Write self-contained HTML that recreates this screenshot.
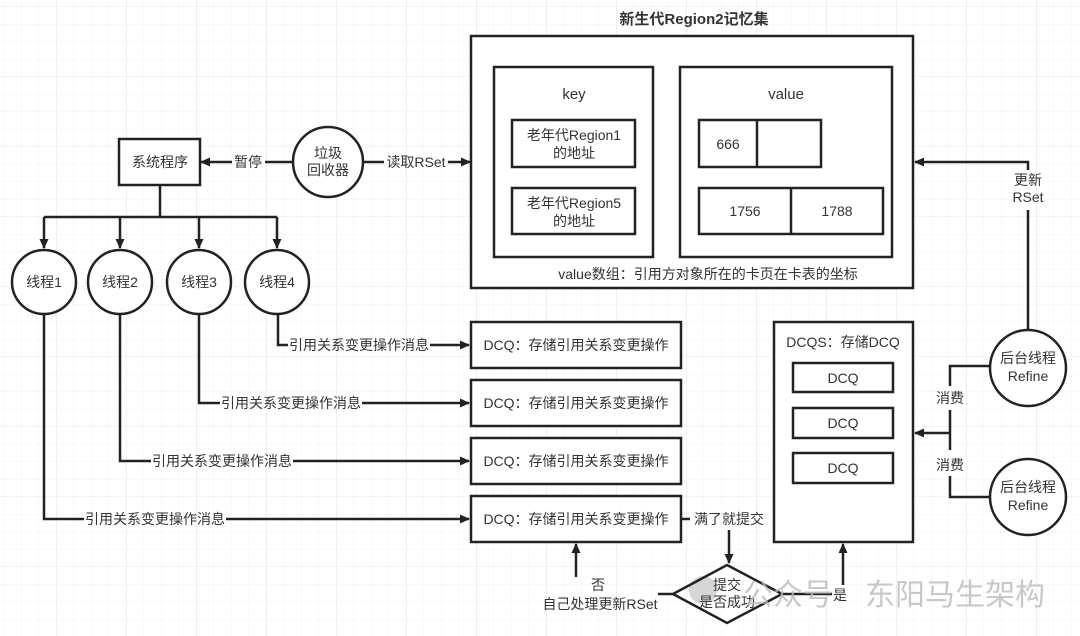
<!DOCTYPE html>
<html><head><meta charset="utf-8"><style>
html,body{margin:0;padding:0;background:#fff;}
svg{display:block;}
text{font-family:"Liberation Sans","Noto Sans CJK SC",sans-serif;fill:#333;}
</style></head><body>
<svg width="1080" height="636" viewBox="0 0 1080 636" xmlns="http://www.w3.org/2000/svg">
<defs>
<pattern id="minor" x="4" y="7" width="17.5" height="17.5" patternUnits="userSpaceOnUse"><path d="M17.5 0V17.5H0" fill="none" stroke="#f3f3f3" stroke-width="1"/></pattern>
<pattern id="major" x="-13" y="7" width="70" height="70" patternUnits="userSpaceOnUse"><path d="M70 0V70H0" fill="none" stroke="#e8e8e8" stroke-width="1"/></pattern>
<marker id="ar" markerWidth="10" markerHeight="10" refX="9" refY="5" orient="auto" markerUnits="userSpaceOnUse"><path d="M0,0.5 L10,5 L0,9.5 Z" fill="#222"/></marker>
</defs>
<rect width="1080" height="636" fill="#fff"/>
<rect width="1080" height="636" fill="url(#minor)"/>
<rect width="1080" height="636" fill="url(#major)"/>
<g fill="none" stroke="#222" stroke-width="2.5">
<rect x="471" y="36" width="442" height="252" fill="#fff"/>
<rect x="494" y="67" width="159" height="190"/>
<rect x="680" y="67" width="212" height="190"/>
<rect x="512" y="120" width="123" height="47"/>
<rect x="512" y="188" width="123" height="46"/>
<rect x="699" y="120" width="122" height="47"/><line x1="757" y1="120" x2="757" y2="167"/>
<rect x="699" y="188" width="184" height="46"/><line x1="791" y1="188" x2="791" y2="234"/>
<rect x="119" y="139" width="81" height="46" fill="#fff"/>
<circle cx="328" cy="162" r="35" fill="#fff"/>
<line x1="293" y1="162" x2="265" y2="162"/><line x1="232" y1="162" x2="201" y2="162" marker-end="url(#ar)"/>
<line x1="363" y1="162" x2="384" y2="162"/><line x1="448" y1="162" x2="470" y2="162" marker-end="url(#ar)"/>
<line x1="160" y1="185" x2="160" y2="217"/>
<line x1="44" y1="217" x2="277" y2="217"/>
<line x1="44" y1="217" x2="44" y2="248" marker-end="url(#ar)"/>
<line x1="120" y1="217" x2="120" y2="248" marker-end="url(#ar)"/>
<line x1="199" y1="217" x2="199" y2="248" marker-end="url(#ar)"/>
<line x1="277" y1="217" x2="277" y2="248" marker-end="url(#ar)"/>
<circle cx="44" cy="282" r="32" fill="#fff"/>
<circle cx="120" cy="282" r="32" fill="#fff"/>
<circle cx="199" cy="282" r="32" fill="#fff"/>
<circle cx="277" cy="282" r="32" fill="#fff"/>
<polyline points="278,314 278,345 288,345"/><line x1="430" y1="345" x2="469" y2="345" marker-end="url(#ar)"/>
<polyline points="199,314 199,403 220,403"/><line x1="362" y1="403" x2="469" y2="403" marker-end="url(#ar)"/>
<polyline points="120,314 120,461 151,461"/><line x1="293" y1="461" x2="469" y2="461" marker-end="url(#ar)"/>
<polyline points="44,314 44,519 84,519"/><line x1="226" y1="519" x2="469" y2="519" marker-end="url(#ar)"/>
<rect x="471" y="322" width="210" height="46" fill="#fff"/>
<rect x="471" y="380" width="210" height="46" fill="#fff"/>
<rect x="471" y="438" width="210" height="46" fill="#fff"/>
<rect x="471" y="496" width="210" height="46" fill="#fff"/>
<rect x="774" y="322" width="139" height="220" fill="#fff"/>
<rect x="793" y="363" width="100" height="29"/>
<rect x="793" y="408" width="100" height="30"/>
<rect x="793" y="453" width="100" height="30"/>
<circle cx="1028" cy="368" r="38" fill="#fff"/>
<circle cx="1028" cy="497" r="38" fill="#fff"/>
<polyline points="1028,330 1028,210"/>
<polyline points="1028,170 1028,162 915,162" marker-end="url(#ar)"/>
<polyline points="990,366 950,366 950,386"/>
<polyline points="950,410 950,450"/>
<polyline points="950,476 950,497 990,497"/>
<line x1="950" y1="433" x2="915" y2="433" marker-end="url(#ar)"/>
<line x1="681" y1="519" x2="690" y2="519"/>
<line x1="729" y1="530" x2="729" y2="563" marker-end="url(#ar)"/>
</g>
<circle cx="703" cy="590" r="14" fill="#bbb" opacity="0.6"/>
<g fill="none" stroke="#222" stroke-width="2.5">
<polygon points="727,565 782,594 727,623 673,594"/>
<line x1="782" y1="594" x2="832" y2="594"/>
<line x1="843" y1="585" x2="843" y2="544" marker-end="url(#ar)"/>
<line x1="658" y1="594" x2="673" y2="594"/>
<line x1="576" y1="577" x2="576" y2="544" marker-end="url(#ar)"/>
</g>
<g font-size="14" text-anchor="middle">
<text x="694" y="24" font-size="15" font-weight="bold" fill="#222">新生代Region2记忆集</text>
<text x="574" y="99" font-size="15">key</text>
<text x="786" y="99" font-size="15">value</text>
<text x="574" y="140">老年代Region1</text><text x="574" y="158">的地址</text>
<text x="574" y="208">老年代Region5</text><text x="574" y="226">的地址</text>
<text x="728" y="149">666</text>
<text x="745" y="216">1756</text><text x="837" y="216">1788</text>
<text x="708" y="279">value数组：引用方对象所在的卡页在卡表的坐标</text>
<text x="160" y="167">系统程序</text>
<text x="248" y="167">暂停</text>
<text x="328" y="158">垃圾</text><text x="328" y="175">回收器</text>
<text x="416" y="167">读取RSet</text>
<text x="44" y="287">线程1</text><text x="120" y="287">线程2</text><text x="199" y="287">线程3</text><text x="277" y="287">线程4</text>
<text x="359" y="350">引用关系变更操作消息</text>
<text x="291" y="408">引用关系变更操作消息</text>
<text x="222" y="466">引用关系变更操作消息</text>
<text x="155" y="524">引用关系变更操作消息</text>
<text x="576" y="350">DCQ：存储引用关系变更操作</text>
<text x="576" y="408">DCQ：存储引用关系变更操作</text>
<text x="576" y="466">DCQ：存储引用关系变更操作</text>
<text x="576" y="524">DCQ：存储引用关系变更操作</text>
<text x="843" y="347">DCQS：存储DCQ</text>
<text x="843" y="383">DCQ</text><text x="843" y="428">DCQ</text><text x="843" y="473">DCQ</text>
<text x="1028" y="363">后台线程</text><text x="1028" y="381">Refine</text>
<text x="1028" y="492">后台线程</text><text x="1028" y="510">Refine</text>
<text x="1028" y="185">更新</text><text x="1028" y="202">RSet</text>
<text x="950" y="403">消费</text><text x="950" y="470">消费</text>
<text x="729" y="524">满了就提交</text>
<text x="727" y="590">提交</text><text x="727" y="607">是否成功</text>
<text x="598" y="590">否</text>
<text x="600" y="609">自己处理更新RSet</text>
<text x="840" y="600">是</text>
</g>
<g fill="#bbb" font-size="30" opacity="0.8">
<text x="743" y="605" style="fill:#bbb">公众号</text>
<text x="865" y="605" style="fill:#bbb">东阳马生架构</text>
</g>
</svg>
</body></html>
